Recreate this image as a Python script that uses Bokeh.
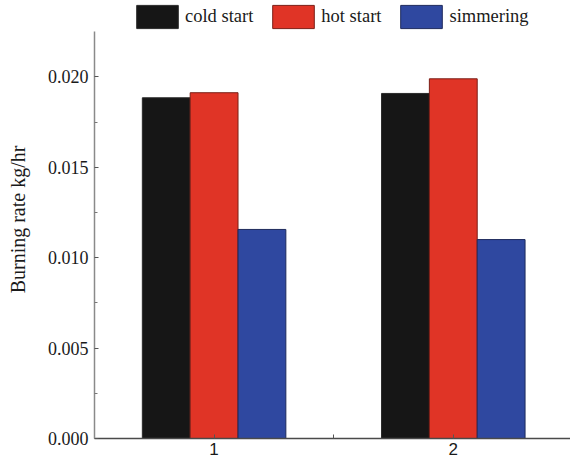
from bokeh.plotting import figure
from bokeh.models import ColumnDataSource, FixedTicker, Range1d, NumeralTickFormatter, Legend
from bokeh.transform import dodge
from bokeh.embed import file_html
from bokeh.resources import INLINE

groups = [1, 2]
cold_start = [0.01884, 0.01908]
hot_start = [0.01912, 0.01989]
simmering = [0.01156, 0.01100]
series_names = ["cold start", "hot start", "simmering"]
y_ticks = [0.0, 0.005, 0.010, 0.015, 0.020]
y_title = "Burning rate kg/hr"

src = ColumnDataSource(dict(x=groups, cold=cold_start, hot=hot_start, sim=simmering))

p = figure(width=570, height=461, output_backend="svg", toolbar_location=None,
           x_range=Range1d(0.5, 2.49), y_range=Range1d(0, 0.02422),
           min_border_left=94, min_border_right=0, min_border_top=0, min_border_bottom=23)

fills = ["#161616", "#E03426", "#2F48A0"]
lines = ["#2a2a2a", "#7a1f17", "#1e2a5c"]
cols = ["cold", "hot", "sim"]
offs = [-0.2, 0.0, 0.2]
renderers = []
for c, o, f, l in zip(cols, offs, fills, lines):
    r = p.vbar(x=dodge("x", o), top=c, width=0.2, source=src,
               fill_color=f, line_color=l, line_width=1)
    renderers.append(r)

legend = Legend(items=[(n, [r]) for n, r in zip(series_names, renderers)],
                orientation="horizontal", location=(37, 407),
                glyph_width=52, glyph_height=29, label_standoff=2, spacing=14,
                padding=0, margin=0, border_line_color=None, background_fill_alpha=0,
                label_text_font="Liberation Serif", label_text_font_size="18.5px",
                label_text_color="#1a1a1a")
p.add_layout(legend, "center")

p.xgrid.visible = False
p.ygrid.visible = False
p.outline_line_color = None

# y axis
ya = p.yaxis[0]
ya.bounds = (0, 0.0225)
ya.ticker = FixedTicker(ticks=y_ticks, minor_ticks=[0.0025, 0.0075, 0.0125, 0.0175])
ya.formatter = NumeralTickFormatter(format="0.000")
ya.axis_label = y_title
ya.axis_label_text_font = "Liberation Serif"
ya.axis_label_text_font_style = "normal"
ya.axis_label_text_font_size = "20px"
ya.axis_label_text_color = "#1a1a1a"
ya.axis_label_standoff = 16
ya.major_label_text_font = "Liberation Serif"
ya.major_label_text_font_size = "18px"
ya.major_label_text_color = "#1a1a1a"
ya.major_label_standoff = 6
ya.axis_line_color = "#8a8a8a"
ya.axis_line_width = 1.5
ya.major_tick_in = 4
ya.major_tick_out = 0
ya.minor_tick_in = 3
ya.minor_tick_out = 0
ya.major_tick_line_color = "#555555"
ya.minor_tick_line_color = "#777777"

# x axis
xa = p.xaxis[0]
xa.ticker = FixedTicker(ticks=[1, 1.5, 2])
xa.major_label_overrides = {1: "1", 1.5: "", 2: "2"}
xa.major_label_text_font = "Liberation Sans"
xa.major_label_text_font_size = "17px"
xa.major_label_text_color = "#1a1a1a"
xa.major_label_standoff = 4
xa.axis_line_color = "#4a4a4a"
xa.axis_line_width = 1.5
xa.major_tick_in = 4
xa.major_tick_out = 0
xa.minor_tick_line_color = None
xa.major_tick_line_color = "#555555"

open("out.html", "w").write(file_html(p, INLINE))
